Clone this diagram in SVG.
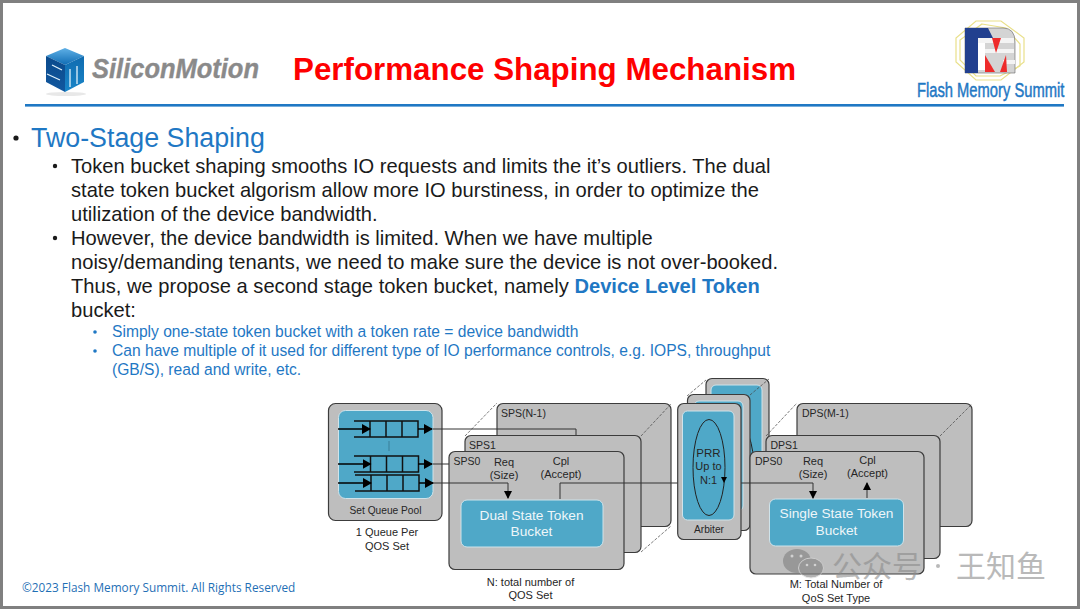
<svg xmlns="http://www.w3.org/2000/svg" width="1080" height="609" viewBox="0 0 1080 609">
<defs>
<linearGradient id="cubeTop" x1="0" y1="0" x2="0" y2="1"><stop offset="0" stop-color="#5fb0e6"/><stop offset="1" stop-color="#0f6cb4"/></linearGradient>
<linearGradient id="cubeL" x1="0" y1="0" x2="0" y2="1"><stop offset="0" stop-color="#0a4a8c"/><stop offset="1" stop-color="#12589f"/></linearGradient>
<linearGradient id="cubeR" x1="0" y1="0" x2="0" y2="1"><stop offset="0" stop-color="#0f6bb0"/><stop offset="1" stop-color="#1a86c8"/></linearGradient>
<marker id="ah" markerUnits="userSpaceOnUse" markerWidth="8" markerHeight="8" refX="7" refY="4" orient="auto"><path d="M0 0L8 4L0 8z" fill="#000"/></marker>
<marker id="ql" markerUnits="userSpaceOnUse" markerWidth="9" markerHeight="10" refX="8" refY="5" orient="auto"><path d="M0 0L9 5L0 10z" fill="#000"/></marker>
</defs>
<style>
text{font-family:"Liberation Sans",Arial,sans-serif}
.card{fill:#bebebe;stroke:#3c3c3c;stroke-width:1.2}
.blue{fill:#4fa8c8;stroke:#cfe3ea;stroke-width:1}
.dash{fill:none;stroke:#444;stroke-width:.7;stroke-dasharray:3 1.5}
.lab{font-size:10.5px;fill:#262626}
.cap{font-size:11px;fill:#262626;text-anchor:middle}
.small{font-size:10.200px}
.bt{font-size:13.700px;fill:#eef6f9;text-anchor:middle}
.q{fill:none;stroke:#111;stroke-width:1.5}
.c{fill:none;stroke:#333;stroke-width:1}
.ql{fill:none;stroke:#000;stroke-width:1.5}
.body{font-size:20.140px;fill:#1a1a1a}
.sub{font-size:15.620px;fill:#1f78c4}
.dot{fill:#1a1a1a}
.el{fill:none;stroke:#222;stroke-width:1}
</style>
<rect width="1080" height="609" fill="#fff"/>
<path d="M1.500 1.500H1078.500V607.500H1.500z" fill="none" stroke="#808080" stroke-width="3"/>

<g id="logo-siliconmotion">
<ellipse cx="66" cy="94" rx="20" ry="2" fill="#e8e8e8"/>
<polygon points="65,48 84,56 65,65 46,56" fill="url(#cubeTop)"/>
<polygon points="46,56 65,65 65,92 46,82" fill="url(#cubeL)"/>
<polygon points="65,65 84,56 84,82 65,92" fill="url(#cubeR)"/>
<path d="M52 65L62 70M47 74L60 80M70 87V69M77 84V66" fill="none" stroke="#dff0fa" stroke-width="1.300"/>
<text x="92" y="78" font-size="28" font-weight="700" font-style="italic" fill="#8a8a8a" stroke="#8a8a8a" stroke-width=".4" textLength="167" lengthAdjust="spacingAndGlyphs">SiliconMotion</text>
</g>
<text id="title" x="293" y="80" font-size="32" font-weight="700" fill="#fe0000" textLength="503" lengthAdjust="spacingAndGlyphs">Performance Shaping Mechanism</text>
<g id="logo-fms">
<polygon points="976,21 1001,21 1024,38 1024,62 1001,80 976,80 956,62 956,38" fill="none" stroke="#e9e08a" stroke-width="1.200"/>
<polygon points="982,24 1006,28 1020,44 1020,66 1000,76 976,76 960,60 960,40" fill="none" stroke="#e9e08a" stroke-width="1.200"/>
<path d="M965 28H1003Q1015 28 1015 42V73H965z" fill="#d4d4d4" stroke="#666" stroke-width=".6"/>
<polygon points="965,28 988,28 993,38 978,38 978,73 965,73" fill="#22408f"/>
<rect x="978" y="38" width="7" height="32" fill="#fff"/>
<rect x="978" y="38" width="36" height="5" fill="#f4f4f4"/>
<rect x="985" y="49" width="29" height="4" fill="#f4f4f4"/>
<rect x="1003" y="60" width="12" height="4" fill="#f4f4f4"/>
<polygon points="992,38 1001,38 996,53" fill="#ee2b2b"/>
<polygon points="985,55 995,72 985,72" fill="#ee2b2b"/>
<polygon points="1006,55 1007,72 1000,72" fill="#ee2b2b"/>
<text transform="translate(917 97) scale(.702 1)" x="0" y="0" font-size="21" fill="#1f78c4" stroke="#1f78c4" stroke-width=".5">Flash Memory Summit</text>
</g>
<rect id="header-rule" x="25" y="104" width="1039" height="2.600" fill="#1f78c4"/>

<g id="bullets">
<circle cx="16" cy="138" r="2.600" class="dot"/>
<text x="31" y="147" font-size="26.800" fill="#1f78c4">Two-Stage Shaping</text>
<circle cx="55" cy="166" r="2.200" class="dot"/>
<text class="body" x="71" y="173">Token bucket shaping smooths IO requests and limits the it’s outliers. The dual</text>
<text class="body" x="71" y="197">state token bucket algorism allow more IO burstiness, in order to optimize the</text>
<text class="body" x="71" y="221">utilization of the device bandwidth.</text>
<circle cx="55" cy="238" r="2.200" class="dot"/>
<text class="body" x="71" y="245">However, the device bandwidth is limited. When we have multiple</text>
<text class="body" x="71" y="269">noisy/demanding tenants, we need to make sure the device is not over-booked.</text>
<text class="body" x="71" y="293">Thus, we propose a second stage token bucket, namely <tspan font-weight="700" fill="#1f78c4">Device Level Token</tspan></text>
<text class="body" x="71" y="317">bucket:</text>
<circle cx="95" cy="332" r="1.800" fill="#1f78c4"/>
<text class="sub" x="112" y="337">Simply one-state token bucket with a token rate = device bandwidth</text>
<circle cx="95" cy="351" r="1.800" fill="#1f78c4"/>
<text class="sub" x="112" y="356">Can have multiple of it used for different type of IO performance controls, e.g. IOPS, throughput</text>
<text class="sub" x="112" y="375">(GB/S), read and write, etc.</text>
</g>

<g id="queue-pool">
<rect class="card" x="328.500" y="403.500" width="113.500" height="117" rx="7"/>
<rect class="blue" x="338.500" y="410.500" width="94.500" height="88" rx="7"/>
<path class="q" d="M354 421H418V437H354M370 421V437M386 421V437M402 421V437"/>
<path class="q" d="M354 456H418.500V472H354M370.500 456V472M386.500 456V472M402.500 456V472"/>
<path class="q" d="M355 475H419V491H355M371 475V491M387 475V491M403 475V491"/>
<path d="M389 441V451" stroke="#3a7f98" stroke-width="1"/>
<path class="ql" marker-end="url(#ql)" d="M338 429H370"/>
<path class="ql" marker-end="url(#ql)" d="M338 464H370.500"/>
<path class="ql" marker-end="url(#ql)" d="M338 483H371"/>
<path class="ql" marker-end="url(#ql)" d="M418 429H432"/>
<path class="ql" marker-end="url(#ql)" d="M418 464H432"/>
<path class="ql" marker-end="url(#ql)" d="M419 483H433"/>
<text class="cap small" x="385.500" y="514">Set Queue Pool</text>
<text class="cap" x="387" y="536">1 Queue Per</text>
<text class="cap" x="387" y="550">QOS Set</text>
</g>

<g id="sps-n1">
<path class="dash" d="M465 436L497 403M641 552L671 526"/>
<rect class="card" x="497" y="403.500" width="174" height="123" rx="6"/>
<path class="dash" d="M641 436L671 404"/>
<text class="lab" x="501" y="417">SPS(N-1)</text>
</g>
<g id="sps1">
<rect class="card" x="465" y="435.500" width="176" height="117" rx="6"/>
<text class="lab" x="469" y="449">SPS1</text>
</g>
<g id="sps0">
<rect class="card" x="449" y="451.500" width="175" height="118" rx="6"/>
<text class="lab" x="453.500" y="465">SPS0</text>
<text class="cap" x="504" y="466">Req</text>
<text class="cap" x="504" y="479">(Size)</text>
<text class="cap" x="561" y="465">Cpl</text>
<text class="cap" x="561" y="478">(Accept)</text>
<rect class="blue" x="461" y="500" width="142" height="47" rx="6"/>
<text class="bt" x="531.500" y="520">Dual State Token</text>
<text class="bt" x="531.500" y="536">Bucket</text>
<text class="cap" x="530.500" y="586">N: total number of</text>
<text class="cap" x="530.500" y="599">QOS Set</text>
</g>

<g id="arbiter-back">
<path class="dash" d="M687 396L706 380"/>
<rect class="card" x="706" y="378.500" width="63" height="130" rx="6"/>
<rect class="blue" x="711" y="385" width="51" height="110" rx="5"/>
<ellipse class="el" cx="737" cy="470" rx="17" ry="48"/>
<path class="dash" d="M750 395L769 379"/>
<rect class="card" x="687.500" y="394.500" width="62.500" height="136" rx="6"/>
<rect class="blue" x="694" y="401" width="49" height="110" rx="5"/>
</g>

<g id="dps-m1">
<path class="dash" d="M766 436L797 403"/>
<rect class="card" x="797" y="403.500" width="175" height="123" rx="6"/>
<path class="dash" d="M940 436L972 404"/>
<text class="lab" x="802" y="417">DPS(M-1)</text>
</g>
<g id="dps1">
<rect class="card" x="766" y="435.500" width="174" height="123" rx="6"/>
<text class="lab" x="770.500" y="449">DPS1</text>
</g>
<g id="dps0">
<rect class="card" x="750" y="451.500" width="174" height="122.500" rx="6"/>
<text class="lab" x="755" y="465">DPS0</text>
<text class="cap" x="813" y="465">Req</text>
<text class="cap" x="813" y="478">(Size)</text>
<text class="cap" x="867.500" y="464">Cpl</text>
<text class="cap" x="867.500" y="477">(Accept)</text>
<rect class="blue" x="769.500" y="499" width="134" height="47" rx="6"/>
<text class="bt" x="836.500" y="518">Single State Token</text>
<text class="bt" x="836.500" y="535">Bucket</text>
<text class="cap" x="836" y="588">M: Total Number of</text>
<text class="cap" x="836" y="602">QoS Set Type</text>
</g>

<g id="connectors">
<path class="c" d="M433 429H576V435"/>
<path class="c" d="M433 464H449"/>
<path class="c" marker-end="url(#ah)" d="M433 483H508V498"/>
<path class="c" d="M560 499V483H741"/>
<path class="c" marker-end="url(#ah)" d="M741 483H813V498"/>
<path class="c" marker-end="url(#ah)" d="M867 498V483"/>
</g>

<g id="arbiter">
<rect class="card" x="677.700" y="403.500" width="63.300" height="136" rx="6"/>
<rect class="blue" x="682.500" y="411" width="51.500" height="109" rx="5"/>
<ellipse class="el" cx="709" cy="467.500" rx="16" ry="48"/>
<path d="M721 477H727L724 483z" fill="#000"/>
<text class="cap" x="708.500" y="456.500" style="font-size:11.500px">PRR</text>
<text class="cap" x="708.500" y="470">Up to</text>
<text class="cap" x="708.500" y="484">N:1</text>
<text class="cap small" x="709" y="533">Arbiter</text>
</g>

<text id="copyright" x="22" y="592" font-size="11.800" fill="#1f6fb5" style="font-family:'Open Sans','Liberation Sans',sans-serif">©2023 Flash Memory Summit. All Rights Reserved</text>

<g id="watermark" opacity=".6">
<ellipse cx="797" cy="561" rx="14" ry="12" fill="#7f7f7f"/>
<ellipse cx="811" cy="568" rx="12.500" ry="10" fill="#7f7f7f" stroke="#d8d8d8" stroke-width="1"/>
<circle cx="792" cy="556" r="1.500" fill="#e0e0e0"/><circle cx="801" cy="556" r="1.500" fill="#e0e0e0"/>
<circle cx="807" cy="565" r="1.300" fill="#e0e0e0"/><circle cx="815" cy="565" r="1.300" fill="#e0e0e0"/>
<text x="832" y="577" font-size="30" fill="#8c8c8c" style="font-family:'Noto Sans CJK SC',sans-serif">公众号</text>
<circle cx="938" cy="566" r="2" fill="#8c8c8c"/>
<text x="956" y="577" font-size="30" fill="#8c8c8c" style="font-family:'Noto Sans CJK SC',sans-serif">王知鱼</text>
</g>
</svg>
